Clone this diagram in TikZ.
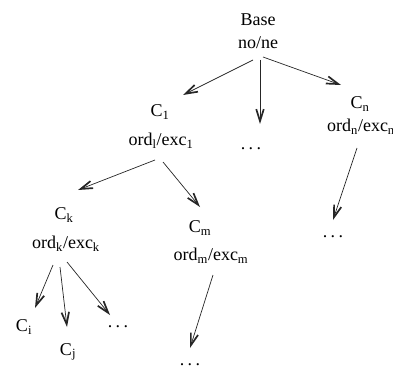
\documentclass[tikz,border=0pt]{standalone}
\usepackage{fontspec}
\setmainfont{Liberation Serif}
\usetikzlibrary{arrows.meta}
\newcommand{\mydots}{.\hspace{3.5pt}.\hspace{3.5pt}.}
\tikzset{
  lbl/.style={inner sep=0pt, font=\fontsize{18}{20}\selectfont},
  arr/.style={draw=black!85, line width=0.7pt, -{Straight Barb[length=12pt,width=7.5pt,line width=1.7pt]}},
}
\begin{document}
\begin{tikzpicture}[x=1pt,y=-1pt]
\useasboundingbox (0,0) rectangle (393,374);
\begin{scope}
\clip (0,0) rectangle (393,374);
% texts
\node[lbl] (basea) at (258,20) {Base};
\node[lbl] (base) at (258,43) {no/ne};
\node[lbl] (c1a) at (160,112) {C\textsubscript{1}};
\node[lbl] (c1) at (161,141) {ord\textsubscript{l}/exc\textsubscript{1}};
\node[lbl] (dm) at (251,149) {\mydots};
\node[lbl] (cna) at (360,104) {C\textsubscript{n}};
\node[lbl] (cn) at (361,127) {ord\textsubscript{n}/exc\textsubscript{n}};
\node[lbl] (dn) at (333,237) {\mydots};
\node[lbl] (cka) at (64,215) {C\textsubscript{k}};
\node[lbl] (ck) at (66,244) {ord\textsubscript{k}/exc\textsubscript{k}};
\node[lbl] (cma) at (200,228) {C\textsubscript{m}};
\node[lbl] (cm) at (211,256) {ord\textsubscript{m}/exc\textsubscript{m}};
\node[lbl] (dmm) at (190,365) {\mydots};
\node[lbl] (ci) at (24,327) {C\textsubscript{i}};
\node[lbl] (cj) at (68,352) {C\textsubscript{j}};
\node[lbl] (dk) at (118,327) {\mydots};
% connectors
\draw[arr] ([shift={(-5,17)}]base.center) -- ([shift={(23,-17)}]c1a.center);
\draw[arr] ([shift={(2,17)}]base.center) -- ([shift={(9,-25)}]dm.center);
\draw[arr] ([shift={(5,14)}]base.center) -- ([shift={(-19,-19)}]cna.center);
\draw[arr] ([shift={(-6,19)}]c1.center) -- ([shift={(14,-25)}]cka.center);
\draw[arr] ([shift={(2,21)}]c1.center) -- ([shift={(0,-21)}]cma.center);
\draw[arr] ([shift={(-4,21)}]cn.center) -- ([shift={(0,-17)}]dn.center);
\draw[arr] ([shift={(2,19)}]cm.center) -- ([shift={(0,-17)}]dmm.center);
\draw[arr] ([shift={(-13,21)}]ck.center) -- ([shift={(11,-19)}]ci.center);
\draw[arr] ([shift={(-6,23)}]ck.center) -- ([shift={(-1,-25)}]cj.center);
\draw[arr] ([shift={(1,18)}]ck.center) -- ([shift={(-8,-12)}]dk.center);
\end{scope}
\end{tikzpicture}
\end{document}
